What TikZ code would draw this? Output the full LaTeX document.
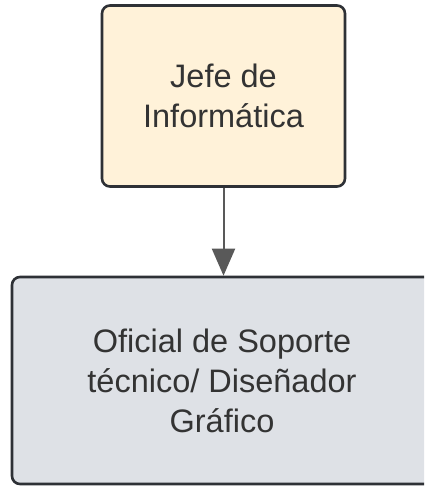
\documentclass[tikz,border=0pt]{standalone}
\usepackage{fontspec}
\setmainfont{Liberation Sans}
\usetikzlibrary{arrows.meta}
\definecolor{topfill}{HTML}{FFF2D9}
\definecolor{botfill}{HTML}{DEE1E6}
\definecolor{edge}{HTML}{2E3136}
\definecolor{txt}{HTML}{333333}
\definecolor{arr}{HTML}{595959}
\begin{document}
\begin{tikzpicture}[x=1pt,y=-1pt,
  box/.style={draw=edge, line width=2.6pt, rounded corners=8pt, inner sep=0pt,
    align=center, text=txt, font=\fontsize{32.5}{40}\selectfont},
  conn/.style={draw=arr, line width=2pt, -{Triangle[length=27pt,width=23pt]}}]
\useasboundingbox (0,0) rectangle (424,486);
\begin{scope}
\clip (0,0) rectangle (424,486);
\node[box, fill=topfill, minimum width=243pt, minimum height=181pt] (jefe) at (223.5,96) {Jefe de\\Informática};
\node[box, fill=botfill, minimum width=420pt, minimum height=207pt] (ofi) at (222,380.5) {Oficial de Soporte\\técnico/ Diseñador\\Gráfico};
\draw[conn] (jefe.south) -- (jefe.south |- ofi.north);
\end{scope}
\end{tikzpicture}
\end{document}
